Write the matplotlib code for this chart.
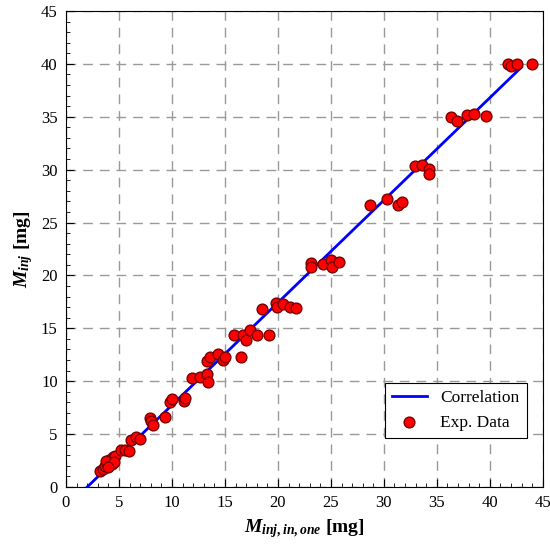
import matplotlib
matplotlib.use("Agg")
import matplotlib.pyplot as plt
from matplotlib.ticker import MultipleLocator

# correlation line end points
corr_x = [2.0, 43.0]
corr_y = [0.0, 39.7]

exp_x = [3.2, 3.5, 3.7, 3.9, 4.1, 4.3, 4.4, 3.8, 4.6, 4.5, 4.0,
         5.2, 5.6, 5.9,
         6.1, 6.6, 7.0,
         7.9, 8.0, 8.2, 9.3,
         9.8, 10.0, 11.1, 11.2,
         11.9, 12.6, 13.3, 13.4,
         13.3, 13.6, 14.3, 14.8, 15.0, 16.5,
         15.9, 16.7, 17.0, 17.4, 18.0, 19.2,
         18.5, 19.8, 19.9, 20.5, 21.1, 21.7,
         23.1, 23.1, 24.3, 25.0, 25.1, 25.8,
         28.7, 30.3, 31.3, 31.7,
         32.9, 33.6, 34.3, 34.3,
         36.3, 36.9, 37.8, 38.5, 39.6,
         41.7, 42.0, 42.6, 44.0]
exp_y = [1.5, 1.7, 2.0, 2.3, 2.6, 2.2, 2.8, 2.5, 2.9, 2.4, 1.9,
         3.5, 3.5, 3.4,
         4.4, 4.7, 4.5,
         6.5, 6.2, 5.9, 6.6,
         8.0, 8.3, 8.1, 8.4,
         10.3, 10.4, 10.7, 9.9,
         11.9, 12.3, 12.6, 12.0, 12.3, 12.3,
         14.4, 14.4, 13.9, 14.8, 14.4, 14.4,
         16.8, 17.4, 17.0, 17.3, 17.0, 16.9,
         21.2, 20.8, 21.1, 21.5, 20.8, 21.3,
         26.7, 27.2, 26.7, 26.9,
         30.3, 30.4, 30.1, 29.6,
         35.0, 34.6, 35.2, 35.3, 35.1,
         40.0, 39.8, 40.0, 40.0]

plt.rcParams["font.family"] = ["Liberation Serif", "DejaVu Serif"]
plt.rcParams["mathtext.fontset"] = "custom"
plt.rcParams["mathtext.it"] = "Liberation Serif:italic:bold"
plt.rcParams["mathtext.rm"] = "Liberation Serif:bold"

fig = plt.figure(figsize=(5.5, 5.46), dpi=100)
ax = fig.add_axes([0.12, 0.108, 0.867, 0.872])

ax.plot(corr_x, corr_y, color="#0000ff", lw=2, label="Correlation", zorder=3)
ax.scatter(exp_x, exp_y, s=60, c="#ff0000", edgecolors="#7a0000", linewidths=1,
           label="Exp. Data", zorder=4)

ax.set_xlim(0, 45)
ax.set_ylim(0, 45)
ax.xaxis.set_major_locator(MultipleLocator(5))
ax.yaxis.set_major_locator(MultipleLocator(5))
ax.xaxis.set_minor_locator(MultipleLocator(1))
ax.yaxis.set_minor_locator(MultipleLocator(1))
ax.tick_params(which="major", direction="in", length=6, labelsize=12, pad=6)
ax.tick_params(which="minor", direction="in", length=3)
ax.grid(True, which="major", color="#999999", linestyle=(0, (7, 5)), lw=1)

ax.set_xlabel(r"$M_{inj,in,one}$ [mg]", fontsize=14, fontweight="bold")
ax.set_ylabel(r"$M_{inj}$ [mg]", fontsize=14, fontweight="bold")

leg = ax.legend(loc="lower right", bbox_to_anchor=(0.966, 0.103), fontsize=12.5,
                fancybox=False, edgecolor="black", framealpha=1, borderaxespad=0)
leg.get_frame().set_linewidth(0.8)

fig.savefig("out.png", dpi=100)
